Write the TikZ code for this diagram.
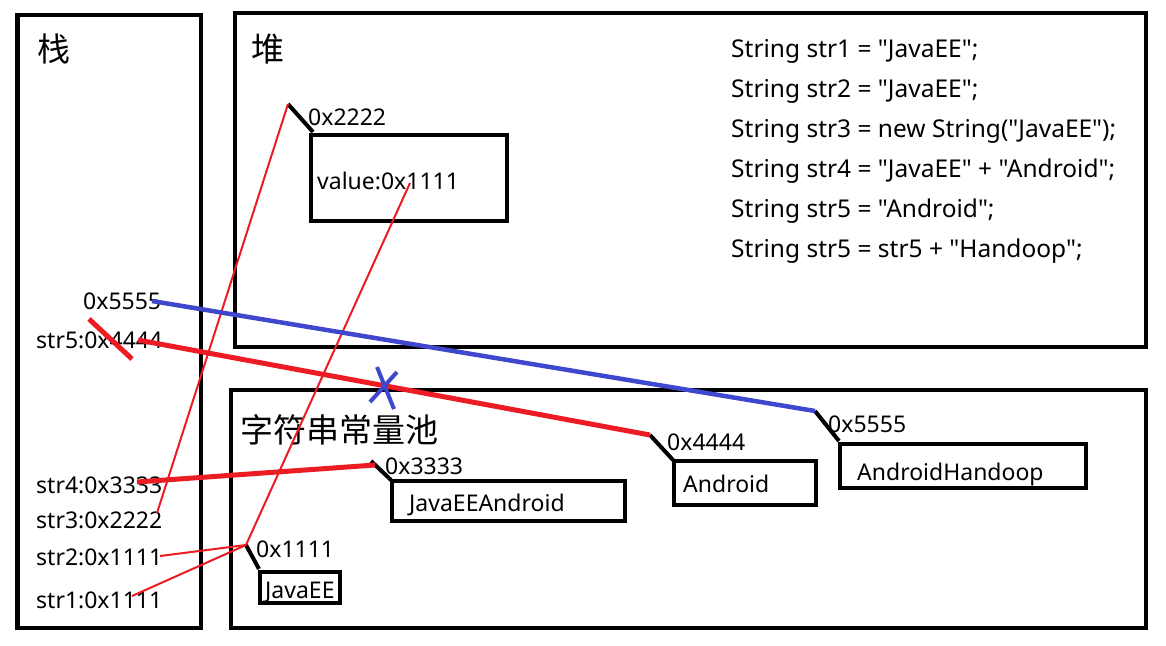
\documentclass[tikz,border=0pt]{standalone}
\usepackage{fontspec}
\setmainfont{Noto Sans}[Ligatures=TeXOff]
\newfontfamily\cjk{Noto Sans CJK SC}
\definecolor{pred}{HTML}{ED1C24}
\definecolor{pblue}{HTML}{3F48CC}
\begin{document}
\begin{tikzpicture}[x=1pt,y=-1pt,
  boxn/.style={draw=black, line width=4.5pt, inner sep=0pt},
  lbl/.style={anchor=base west, inner sep=0pt, font=\fontsize{23}{26}\selectfont},
  code/.style={anchor=base west, inner sep=0pt, font=\fontsize{24.5}{28}\selectfont},
  title/.style={anchor=center, inner sep=0pt, font=\cjk\fontsize{33}{36}\selectfont},
  tick/.style={black, line width=4pt},
  thinred/.style={pred, line width=2pt},
  thickred/.style={pred, line width=5pt},
  blueln/.style={pblue, line width=4.5pt}]
\useasboundingbox[fill=white] (0,0) rectangle (1166,645);

% frames
\node[boxn, minimum width=183.5pt, minimum height=613pt] (stack) at (109.25,321.5) {};
\node[boxn, minimum width=911pt, minimum height=334pt] (heap) at (690.5,180) {};
\node[boxn, minimum width=915pt, minimum height=238pt] (pool) at (688.5,509) {};

\node[title] (tstack) at (54,49) {栈};
\node[title] (theap) at (268,49) {堆};
\node[title] (tpool) at (339,430) {字符串常量池};

% code
\node[code] (c1) at (731,57) {String str1 = "JavaEE";};
\node[code] (c2) at (731,97) {String str2 = "JavaEE";};
\node[code] (c3) at (731,137) {String str3 = new String("JavaEE");};
\node[code] (c4) at (731,177) {String str4 = "JavaEE" + "Android";};
\node[code] (c5) at (731,217) {String str5 = "Android";};
\node[code] (c6) at (731,257) {String str5 = str5 + "Handoop";};

% stack entries
\node[lbl] (s55) at (83,309) {0x5555};
\node[lbl] (s5) at (36,348) {str5:0x4444};
\node[lbl] (s4) at (36,493) {str4:0x3333};
\node[lbl] (s3) at (36,528) {str3:0x2222};
\node[lbl] (s2) at (36,565) {str2:0x1111};
\node[lbl] (s1) at (36,608) {str1:0x1111};

% heap object
\node[boxn, minimum width=196pt, minimum height=86pt] (obj) at (409,178) {};
\node[lbl] (objv) at (317,189) {value:0x1111};
\node[lbl] (a2222) at (308,125) {0x2222};

% pool objects
\node[boxn, minimum width=80pt, minimum height=31pt] (bjee) at (300,587.5) {};
\node[lbl] (tjee) at (265,598) {JavaEE};
\node[lbl] (a1111) at (256,557) {0x1111};

\node[boxn, minimum width=233pt, minimum height=40pt] (bjea) at (508.5,501) {};
\node[lbl] (tjea) at (409,511) {JavaEEAndroid};
\node[lbl] (a3333) at (385,474) {0x3333};

\node[boxn, minimum width=142pt, minimum height=44pt] (band) at (745,483) {};
\node[lbl] (tand) at (683,492) {Android};
\node[lbl] (a4444) at (667,450) {0x4444};

\node[boxn, minimum width=246pt, minimum height=44pt] (bah) at (963,466) {};
\node[lbl] (tah) at (857,480) {AndroidHandoop};
\node[lbl] (a5555) at (828,432) {0x5555};

% coordinates
\coordinate (p2222) at (288,104);
\coordinate (q2222) at (313,132);
\coordinate (p1111) at (246,545);
\coordinate (q1111) at (259,569);
\coordinate (p3333) at (371,461);
\coordinate (q3333) at (391,480);
\coordinate (p4444) at (650,435);
\coordinate (q4444) at (673,460);
\coordinate (p5555) at (815,411);
\coordinate (q5555) at (839,441);
\coordinate (vend) at (410,183);
\coordinate (e55) at (152,301);
\coordinate (e5) at (138,340);
\coordinate (e4) at (137,482);
\coordinate (e3) at (157,513);
\coordinate (e2) at (160,556);
\coordinate (e1) at (132,596);
\coordinate (e4b) at (375,465);

% ticks
\draw[tick] (p2222) -- (q2222);
\draw[tick] (p1111) -- (q1111);
\draw[tick] (p3333) -- (q3333);
\draw[tick] (p4444) -- (q4444);
\draw[tick] (p5555) -- (q5555);

% references
\draw[thinred] (e3) -- (p2222);
\draw[thinred] (e2) -- (p1111);
\draw[thinred] (e1) -- (p1111);
\draw[thinred] (p1111) -- (vend);
\draw[thickred] (e4) -- (e4b);
\draw[thickred] (e5) -- (p4444);
\draw[blueln] (e55) -- (p5555);

% crossings
\coordinate (x1) at (89,319);
\coordinate (x2) at (132,359);
\draw[thickred] (x1) -- (x2);
\coordinate (b1) at (370,402);
\coordinate (b2) at (397,372);
\coordinate (b3) at (377,367);
\coordinate (b4) at (394,409);
\draw[pblue, line width=4pt] (b1) -- (b2);
\draw[pblue, line width=4pt] (b3) -- (b4);
\end{tikzpicture}
\end{document}
